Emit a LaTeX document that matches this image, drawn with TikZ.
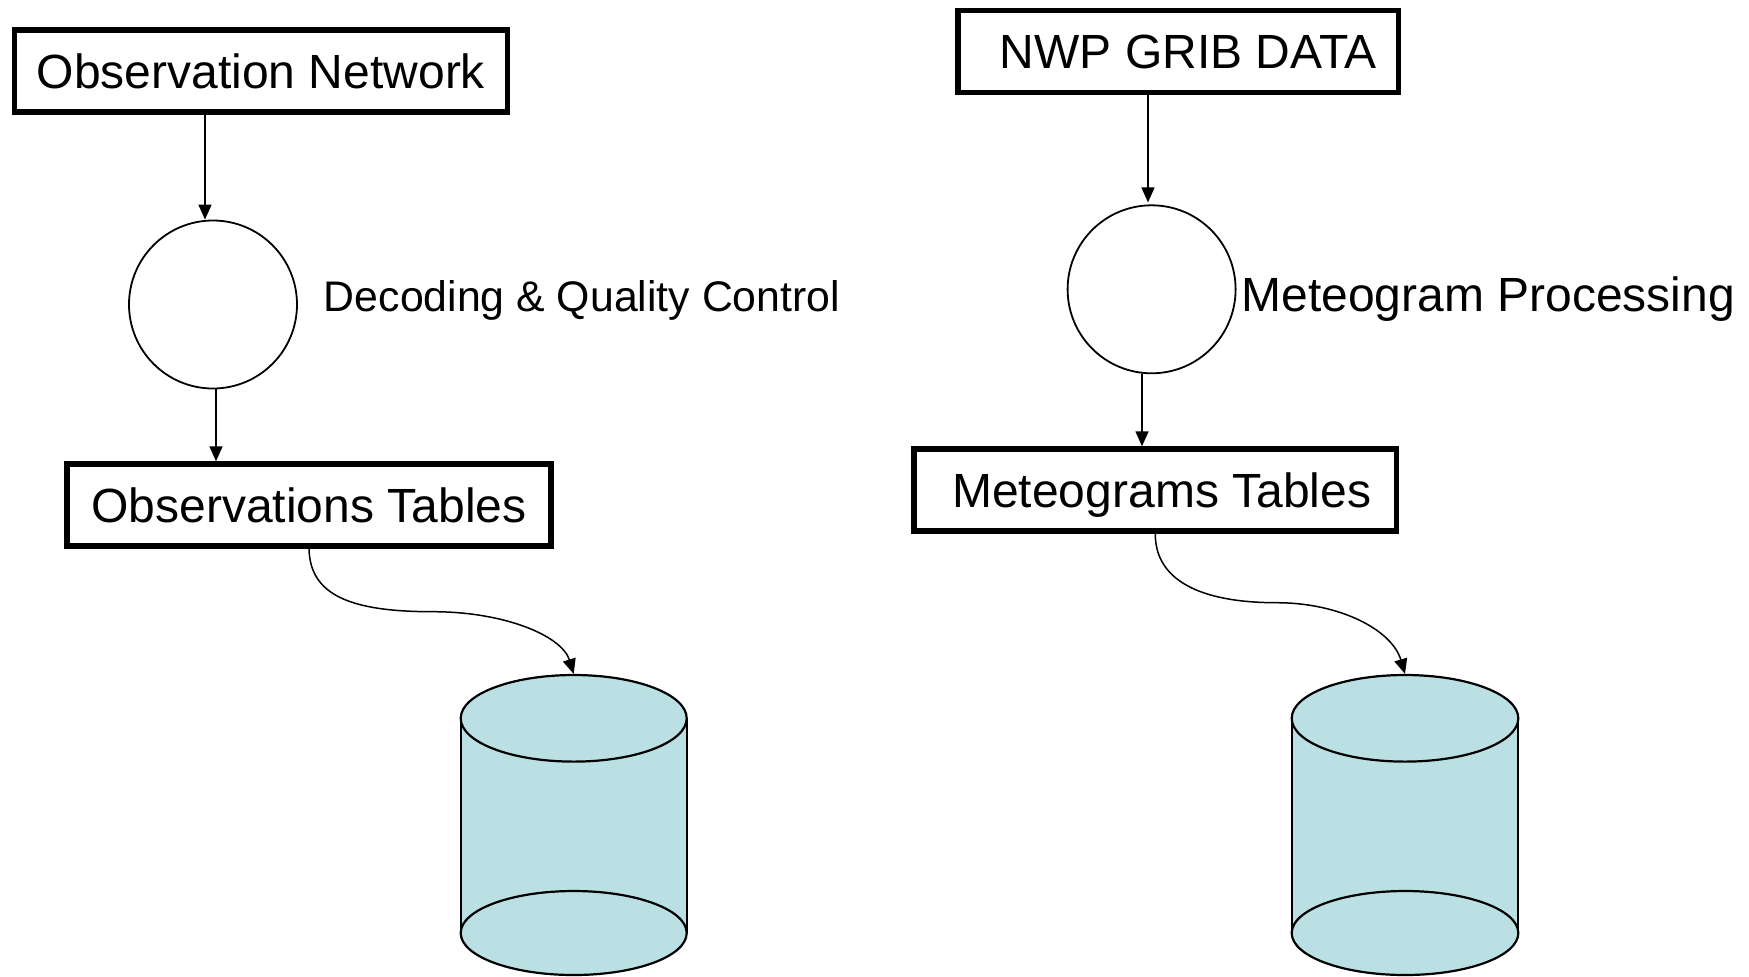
\documentclass[tikz,border=0pt]{standalone}
\usepackage{fontspec}
\setmainfont{Liberation Sans}
\usetikzlibrary{arrows.meta,shapes.geometric,calc}
\definecolor{cylfill}{RGB}{187,224,227}
\tikzset{
  boxnode/.style={draw=black, line width=2.7pt, rectangle, inner sep=0pt,
    minimum height=41pt, text height=17.2pt, text depth=0pt,
    font=\fontsize{24}{28}\selectfont},
  procnode/.style={draw=black, line width=0.9pt, circle, inner sep=0pt, minimum size=84pt},
  labelnode/.style={inner sep=0pt, anchor=base west},
  arr/.style={line width=0.75pt, -{Triangle[length=7.5pt,width=6.5pt]}},
  cyltop/.style={ellipse, fill=cylfill, draw=black, line width=1.1pt, inner sep=0pt,
    minimum width=113pt, minimum height=43.3pt}
}
\begin{document}
\begin{tikzpicture}[x=0.5pt,y=-0.5pt]
\useasboundingbox (0,0) rectangle (1749,976);

% ---- left chain ----
\node[boxnode, minimum width=246.5pt] (net) at (261,71) {Observation Network};
\node[procnode] (circ1) at (213,304.5) {};
\node[labelnode, font=\fontsize{21.4}{25}\selectfont] (lab1) at (323.5,311.7) {Decoding \& Quality Control};
\node[boxnode, minimum width=241.9pt] (tab1) at (309,505) {Observations Tables};

% cylinder 1
\fill[cylfill] (460.7,718.3) -- (460.7,933)
  arc[start angle=180, end angle=360, x radius=56.5pt, y radius=21pt]
  -- (686.7,718.3) -- cycle;
\draw[line width=1.1pt] (460.7,718.3) -- (460.7,933);
\draw[line width=1.1pt] (686.7,718.3) -- (686.7,933);
\draw[line width=1.1pt] (573.7,933) ellipse [x radius=56.5pt, y radius=21pt];
\node[cyltop] (db1) at (573.7,718.3) {};

\draw[arr] ([xshift=-28pt]net.south) -- ([xshift=-4pt]circ1.north);
\draw[arr] ([xshift=1.5pt]circ1.south) -- ([xshift=-46.5pt]tab1.north);
\coordinate (m1) at (433,611.7);
\draw[arr] (tab1.south) .. controls (310,595) and (350,611.7) .. (m1)
  .. controls (505,611.7) and (562,636) .. (db1.north);

% ---- right chain ----
\node[boxnode, minimum width=220.3pt] (nwp) at (1178.4,51.6) {\hspace*{10pt}NWP GRIB DATA};
\node[procnode] (circ2) at (1151.6,289.3) {};
\node[labelnode, font=\fontsize{24}{28}\selectfont] (lab2) at (1241,311.7) {Meteogram Processing};
\node[boxnode, minimum width=241.3pt] (tab2) at (1155.3,490) {\hspace*{6.4pt}Meteograms Tables};

% cylinder 2
\fill[cylfill] (1291.7,718.3) -- (1291.7,933)
  arc[start angle=180, end angle=360, x radius=56.65pt, y radius=21pt]
  -- (1518.3,718.3) -- cycle;
\draw[line width=1.1pt] (1291.7,718.3) -- (1291.7,933);
\draw[line width=1.1pt] (1518.3,718.3) -- (1518.3,933);
\draw[line width=1.1pt] (1405,933) ellipse [x radius=56.65pt, y radius=21pt];
\node[cyltop, minimum width=113.3pt] (db2) at (1405,718.3) {};

\draw[arr, shorten >=1pt] ([xshift=-15.2pt]nwp.south) -- ([xshift=-1.8pt]circ2.north);
\draw[arr] ([xshift=-4.8pt]circ2.south) -- ([xshift=-6.65pt]tab2.north);
\coordinate (m2) at (1276.7,602.7);
\draw[arr] (tab2.south) .. controls (1155,580) and (1200,602.7) .. (m2)
  .. controls (1340,602.7) and (1392,630) .. (db2.north);
\end{tikzpicture}
\end{document}
